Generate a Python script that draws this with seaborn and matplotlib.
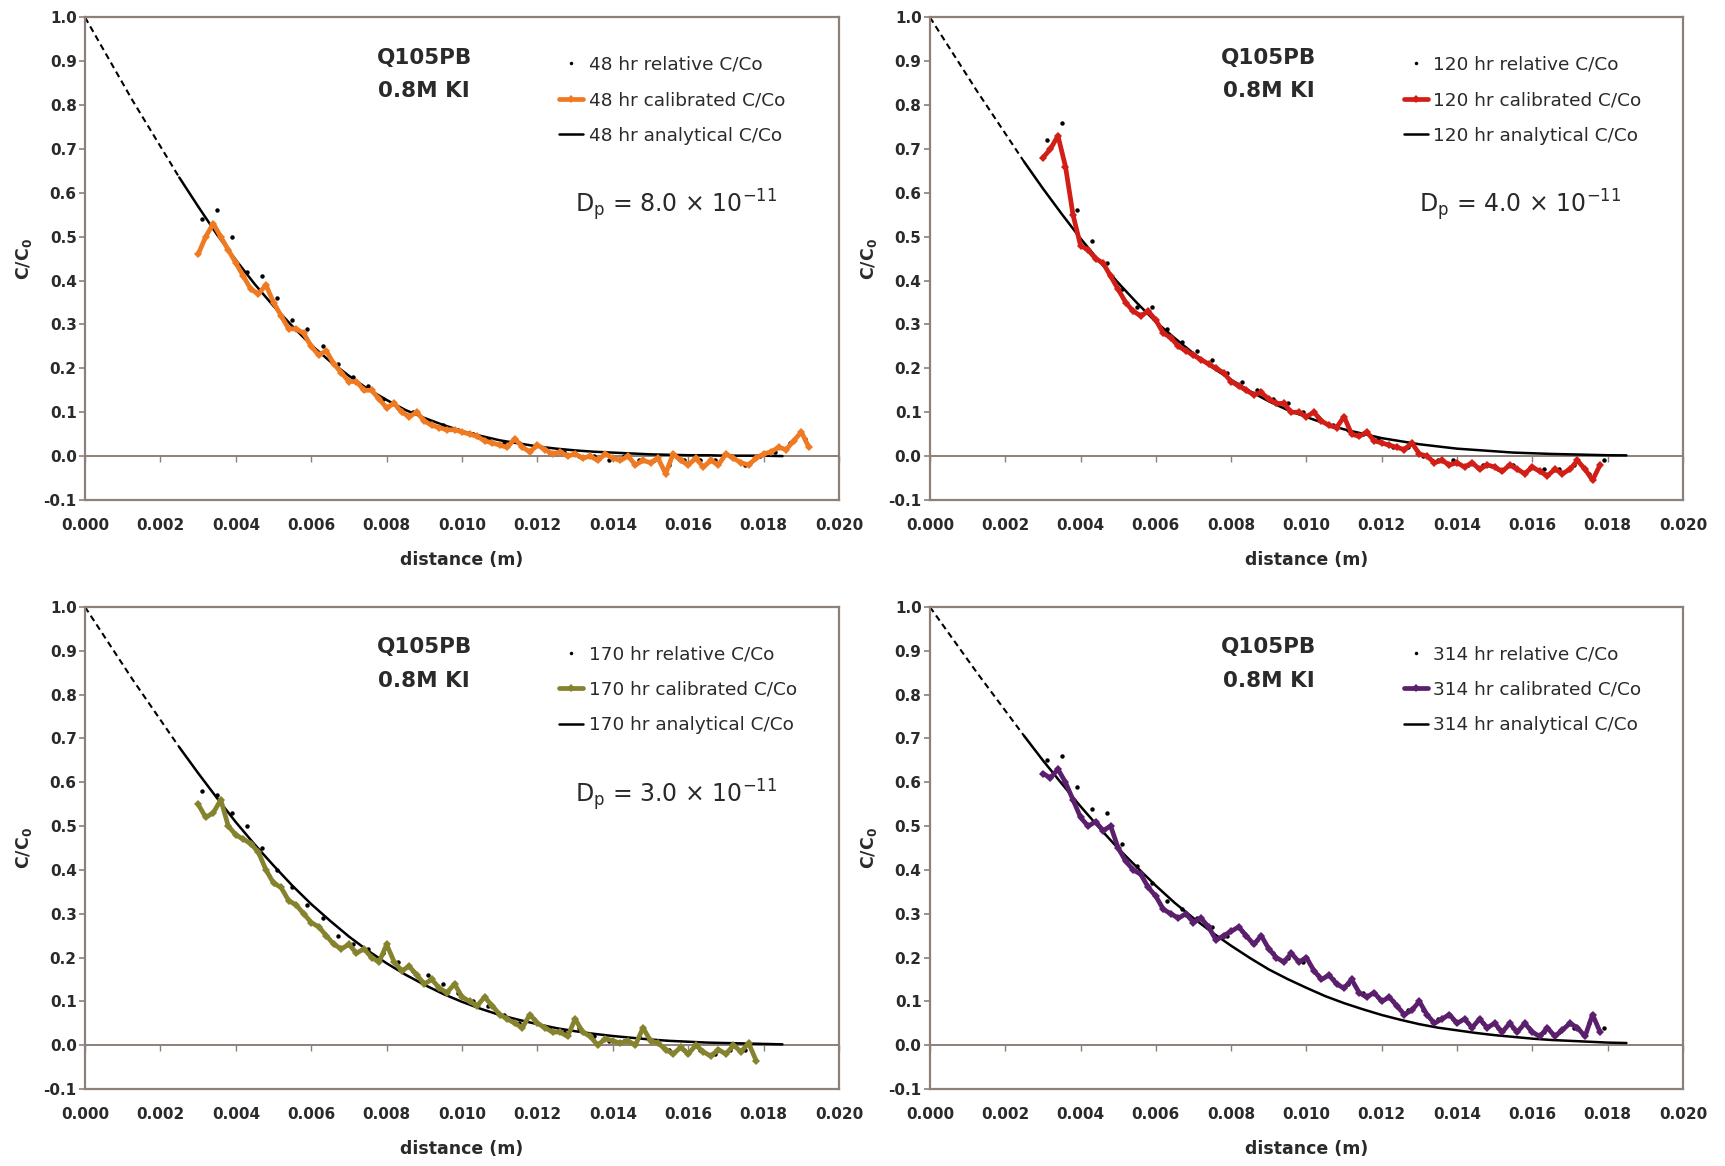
import numpy as np
import matplotlib
matplotlib.use('Agg')
import matplotlib.pyplot as plt
from matplotlib.lines import Line2D
import seaborn as sns
from matplotlib.ticker import FormatStrFormatter

# ---------------- data ----------------
hours = [48, 120, 170, 314]
colors = ['#f07a22', '#d21e16', '#86832e', '#5c1f6e']
dp_values = ['8.0', '4.0', '3.0', None]
sample_name = 'Q105PB'
solution = '0.8M KI'

# calibrated C/Co, sampled every 0.0002 m starting at 0.0030 m
calib_x_start = [0.0030, 0.0030, 0.0030, 0.0030]
calib_x_end = [0.0192, 0.0178, 0.0178, 0.0178]
calib_48 = [0.46, 0.50, 0.53, 0.50, 0.47, 0.44, 0.41, 0.38, 0.37, 0.39,
            0.35, 0.32, 0.29, 0.29, 0.28, 0.25, 0.23, 0.24, 0.21, 0.19,
            0.17, 0.17, 0.15, 0.15, 0.13, 0.11, 0.12, 0.10, 0.09, 0.10,
            0.08, 0.07, 0.065, 0.06, 0.06, 0.055, 0.05, 0.045, 0.035, 0.03,
            0.025, 0.02, 0.04, 0.02, 0.01, 0.025, 0.015, 0.005, 0.01, 0.0,
            0.005, -0.005, 0.0, -0.01, 0.005, -0.005, -0.01, 0.0, -0.02, -0.01,
            -0.015, -0.005, -0.04, 0.005, -0.01, -0.02, -0.005, -0.025, -0.01, -0.02,
            0.005, -0.005, -0.015, -0.02, -0.005, 0.005, 0.01, 0.02, 0.015, 0.035,
            0.055, 0.02]
calib_120 = [0.68, 0.70, 0.73, 0.66, 0.55, 0.48, 0.47, 0.45, 0.44, 0.41,
             0.38, 0.35, 0.33, 0.32, 0.33, 0.31, 0.28, 0.27, 0.25, 0.24,
             0.23, 0.22, 0.21, 0.20, 0.19, 0.17, 0.16, 0.15, 0.14, 0.145,
             0.13, 0.12, 0.12, 0.10, 0.10, 0.09, 0.10, 0.08, 0.07, 0.065,
             0.09, 0.05, 0.045, 0.055, 0.035, 0.03, 0.025, 0.02, 0.015, 0.03,
             0.005, 0.0, -0.015, -0.01, -0.02, -0.015, -0.025, -0.015, -0.03, -0.02,
             -0.025, -0.035, -0.02, -0.03, -0.04, -0.025, -0.035, -0.045, -0.03, -0.04,
             -0.03, -0.01, -0.03, -0.055, -0.02]
calib_170 = [0.55, 0.52, 0.53, 0.56, 0.50, 0.48, 0.47, 0.46, 0.44, 0.40,
             0.37, 0.36, 0.33, 0.32, 0.30, 0.28, 0.27, 0.25, 0.23, 0.22,
             0.23, 0.21, 0.22, 0.20, 0.19, 0.23, 0.19, 0.17, 0.18, 0.16,
             0.14, 0.15, 0.13, 0.12, 0.14, 0.11, 0.10, 0.09, 0.11, 0.09,
             0.07, 0.06, 0.05, 0.04, 0.07, 0.05, 0.04, 0.03, 0.03, 0.02,
             0.06, 0.03, 0.02, 0.00, 0.015, 0.01, 0.005, 0.01, 0.00, 0.04,
             0.01, 0.005, -0.01, -0.02, -0.005, -0.02, 0.0, -0.015, -0.025, -0.01,
             -0.02, 0.0, -0.015, 0.005, -0.035]
calib_314 = [0.62, 0.61, 0.63, 0.60, 0.56, 0.52, 0.50, 0.51, 0.49, 0.50,
             0.45, 0.42, 0.40, 0.39, 0.36, 0.34, 0.31, 0.30, 0.29, 0.30,
             0.28, 0.29, 0.27, 0.24, 0.25, 0.26, 0.27, 0.25, 0.23, 0.25,
             0.22, 0.20, 0.19, 0.21, 0.19, 0.20, 0.17, 0.15, 0.16, 0.14,
             0.13, 0.15, 0.12, 0.11, 0.12, 0.10, 0.11, 0.09, 0.07, 0.08,
             0.10, 0.07, 0.05, 0.06, 0.07, 0.05, 0.06, 0.04, 0.06, 0.04,
             0.05, 0.03, 0.05, 0.03, 0.05, 0.03, 0.02, 0.04, 0.02, 0.035,
             0.05, 0.04, 0.02, 0.07, 0.03]

# relative C/Co, sampled every 0.0004 m starting at 0.0031 m
rel_x_end = [0.0191, 0.0179, 0.0175, 0.0179]
rel_48 = [0.54, 0.56, 0.50, 0.42, 0.41, 0.36, 0.31, 0.29, 0.25, 0.21,
          0.18, 0.16, 0.13, 0.11, 0.10, 0.08, 0.07, 0.06, 0.05, 0.04,
          0.03, 0.03, 0.02, 0.01, 0.01, 0.00, 0.00, -0.01, 0.00, -0.01,
          -0.01, -0.02, -0.01, -0.01, -0.01, 0.00, -0.02, 0.00, 0.01, 0.03,
          0.04]
rel_120 = [0.72, 0.76, 0.56, 0.49, 0.44, 0.38, 0.34, 0.34, 0.29, 0.26,
           0.24, 0.22, 0.19, 0.17, 0.15, 0.13, 0.12, 0.10, 0.09, 0.07,
           0.06, 0.05, 0.04, 0.02, 0.02, 0.00, -0.01, -0.01, -0.02, -0.02,
           -0.03, -0.02, -0.03, -0.03, -0.03, -0.02, -0.04, -0.01]
rel_170 = [0.58, 0.57, 0.53, 0.50, 0.45, 0.40, 0.36, 0.32, 0.29, 0.25,
           0.23, 0.22, 0.21, 0.19, 0.17, 0.16, 0.14, 0.12, 0.10, 0.09,
           0.07, 0.05, 0.06, 0.04, 0.03, 0.04, 0.02, 0.01, 0.01, 0.02,
           0.01, -0.01, -0.01, -0.01, -0.02, -0.01, -0.01]
rel_314 = [0.65, 0.66, 0.59, 0.54, 0.53, 0.46, 0.41, 0.37, 0.33, 0.31,
           0.29, 0.27, 0.25, 0.26, 0.24, 0.21, 0.20, 0.19, 0.16, 0.15,
           0.14, 0.12, 0.11, 0.10, 0.08, 0.08, 0.06, 0.06, 0.05, 0.05,
           0.04, 0.04, 0.04, 0.03, 0.03, 0.04, 0.05, 0.04]

# analytical C/Co, every 0.0005 m from 0.0025 to 0.0185 m
anal_48 = [0.635, 0.569, 0.505, 0.447, 0.392, 0.342, 0.296, 0.253, 0.216, 0.183,
           0.153, 0.128, 0.105, 0.087, 0.071, 0.057, 0.046, 0.036, 0.029, 0.022,
           0.017, 0.013, 0.010, 0.008, 0.006, 0.004, 0.003, 0.002, 0.002, 0.001,
           0.001, 0.001, 0.000]
anal_120 = [0.671, 0.610, 0.552, 0.496, 0.444, 0.395, 0.349, 0.306, 0.269, 0.234,
            0.202, 0.174, 0.148, 0.125, 0.105, 0.089, 0.074, 0.061, 0.051, 0.041,
            0.034, 0.027, 0.022, 0.017, 0.014, 0.011, 0.008, 0.0065, 0.005, 0.004,
            0.003, 0.002, 0.0017]
anal_170 = [0.680, 0.621, 0.564, 0.509, 0.458, 0.410, 0.364, 0.322, 0.284, 0.248,
            0.216, 0.187, 0.161, 0.138, 0.117, 0.099, 0.083, 0.069, 0.058, 0.048,
            0.039, 0.032, 0.026, 0.021, 0.017, 0.013, 0.010, 0.008, 0.006, 0.005,
            0.004, 0.003, 0.002]
anal_314 = [0.706, 0.650, 0.597, 0.545, 0.496, 0.449, 0.406, 0.364, 0.325, 0.290,
            0.257, 0.227, 0.199, 0.173, 0.151, 0.131, 0.112, 0.096, 0.082, 0.069,
            0.058, 0.048, 0.040, 0.034, 0.028, 0.023, 0.019, 0.015, 0.012, 0.010,
            0.008, 0.006, 0.005]

# dashed extrapolation toward the boundary
dash_x = [0.0, 0.00125, 0.0025]
dash_48 = [1.0, 0.812, 0.635]
dash_120 = [1.0, 0.832, 0.671]
dash_170 = [1.0, 0.836, 0.680]
dash_314 = [1.0, 0.850, 0.706]

x_ticks = [0.000, 0.002, 0.004, 0.006, 0.008, 0.010, 0.012, 0.014, 0.016, 0.018, 0.020]
y_ticks = [-0.1, 0.0, 0.1, 0.2, 0.3, 0.4, 0.5, 0.6, 0.7, 0.8, 0.9, 1.0]

calibs = [calib_48, calib_120, calib_170, calib_314]
rels = [rel_48, rel_120, rel_170, rel_314]
anals = [anal_48, anal_120, anal_170, anal_314]
dashes = [dash_48, dash_120, dash_170, dash_314]

# ---------------- styling ----------------
sns.set_theme(style='white')
plt.rcParams['font.family'] = ['DejaVu Sans']
plt.rcParams['mathtext.fontset'] = 'dejavusans'

frame_c = '#8c8078'
text_c = '#2a2a2a'

fig = plt.figure(figsize=(17.25, 11.66), dpi=100)
fig.patch.set_facecolor('white')

positions = [
    [0.0493, 0.5712, 0.4371, 0.4139],
    [0.5391, 0.5712, 0.4365, 0.4139],
    [0.0493, 0.0660, 0.4371, 0.4134],
    [0.5391, 0.0660, 0.4365, 0.4134],
]

anal_x = np.round(np.arange(0.0025, 0.01855, 0.0005), 5)

for i in range(4):
    ax = fig.add_axes(positions[i])
    ax.set_facecolor('white')
    h = hours[i]
    cx = np.round(np.arange(calib_x_start[i], calib_x_end[i] + 1e-5, 0.0002), 5)
    rx = np.round(np.arange(0.0031, rel_x_end[i] + 1e-5, 0.0004), 5)

    sns.lineplot(x=dash_x, y=dashes[i], ax=ax, color='black', linewidth=1.5,
                 linestyle=(0, (3, 2)), label='_nolegend_', zorder=2,
                 sort=False, estimator=None)
    sns.lineplot(x=rx, y=rels[i], ax=ax, color='black', linestyle='',
                 marker='o', markersize=3.2, markeredgewidth=0,
                 label=f'{h} hr relative C/Co', zorder=3,
                 sort=False, estimator=None)
    sns.lineplot(x=cx, y=calibs[i], ax=ax, color=colors[i], linewidth=3.4,
                 marker='D', markersize=4, markeredgewidth=0,
                 label=f'{h} hr calibrated C/Co', zorder=4,
                 sort=False, estimator=None)
    sns.lineplot(x=anal_x, y=anals[i], ax=ax, color='black', linewidth=1.8,
                 label=f'{h} hr analytical C/Co', zorder=2,
                 sort=False, estimator=None)

    ax.set_xlim(0.0, 0.020)
    ax.set_ylim(-0.1, 1.0)
    ax.set_xticks(x_ticks)
    ax.set_yticks(y_ticks)
    ax.xaxis.set_major_formatter(FormatStrFormatter('%.3f'))
    ax.yaxis.set_major_formatter(FormatStrFormatter('%.1f'))
    ax.tick_params(axis='x', length=0, pad=13, labelsize=11, labelcolor=text_c)
    ax.tick_params(axis='y', length=4, width=1.2, color=frame_c, direction='out',
                   pad=2, labelsize=11, labelcolor=text_c, left=True)
    for lab in ax.get_xticklabels() + ax.get_yticklabels():
        lab.set_fontweight('bold')
    for sp in ax.spines.values():
        sp.set_color(frame_c)
        sp.set_linewidth(1.6)
        sp.set_visible(True)

    # zero line with small tick marks (Excel style axis crossing at 0)
    sec = ax.secondary_xaxis(0.1 / 1.1)
    sec.set_xticks(x_ticks)
    sec.tick_params(axis='x', direction='out', length=4, width=1.0,
                    color=frame_c, labelbottom=False)
    sec.spines['bottom'].set_color(frame_c)
    sec.spines['bottom'].set_linewidth(1.4)
    sec.set_xticklabels([])

    ax.set_xlabel('distance (m)', fontsize=12.5, fontweight='bold',
                  color=text_c, labelpad=13)
    ax.set_ylabel(r'C/C$_\mathbf{0}$', fontsize=12.5, fontweight='bold',
                  color=text_c, labelpad=7)

    ax.text(0.0090, 0.908, sample_name, fontsize=15.5, fontweight='bold',
            ha='center', va='center', color=text_c)
    ax.text(0.0090, 0.832, solution, fontsize=15.5, fontweight='bold',
            ha='center', va='center', color=text_c)
    if dp_values[i] is not None:
        ax.text(0.0130, 0.572,
                r'D$_\mathregular{p}$ = ' + dp_values[i] + r' × 10$^\mathregular{-11}$',
                fontsize=17, ha='left', va='center', color=text_c)

    handles, labels = ax.get_legend_handles_labels()
    handles[0] = Line2D([], [], color='black', marker='o', linestyle='',
                        markersize=2.5, markeredgewidth=0)
    leg = ax.legend(handles, labels, loc='upper left', bbox_to_anchor=(0.629, 0.921),
                    frameon=False, fontsize=13.3, handlelength=1.3,
                    handletextpad=0.3, labelspacing=0.95, borderpad=0,
                    borderaxespad=0)
    for t in leg.get_texts():
        t.set_color(text_c)

fig.savefig('out.png', dpi=100, facecolor='white')
